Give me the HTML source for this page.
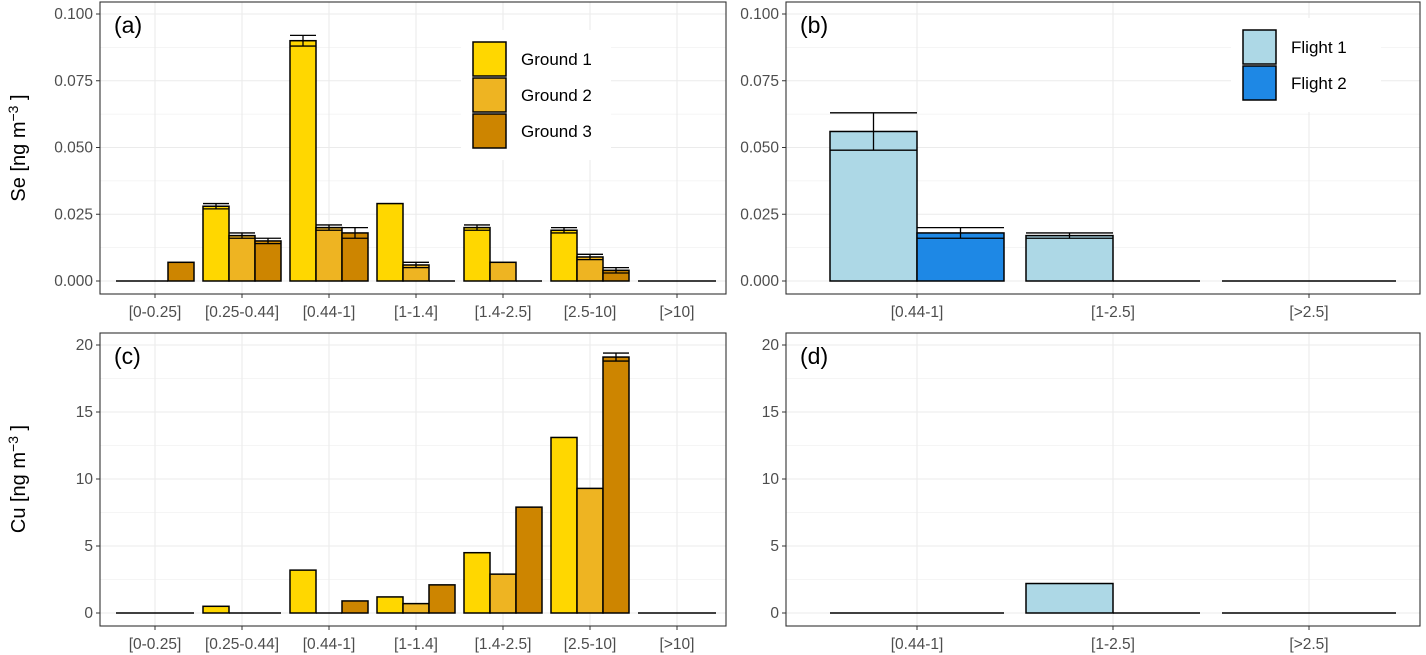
<!DOCTYPE html>
<html><head><meta charset="utf-8">
<style>
body{margin:0;background:#fff;}
svg{display:block;font-family:"Liberation Sans","DejaVu Sans",sans-serif;}
</style></head>
<body>
<svg id="c" width="1426" height="655"></svg>
<script>
const groundCats=["[0-0.25]","[0.25-0.44]","[0.44-1]","[1-1.4]","[1.4-2.5]","[2.5-10]","[>10]"];
const flightCats=["[0.44-1]","[1-2.5]","[>2.5]"];
const seG1=[0,0.028,0.090,0.029,0.020,0.019,0];
const seG2=[0,0.017,0.020,0.006,0.007,0.009,0];
const seG3=[0.007,0.015,0.018,0,0,0.004,0];
const seG1Err=[0,0.001,0.002,0,0.001,0.001,0];
const seG2Err=[0,0.001,0.001,0.001,0,0.001,0];
const seG3Err=[0,0.001,0.002,0,0,0.001,0];
const seF1=[0.056,0.017,0];
const seF2=[0.018,0,0];
const seF1Err=[0.007,0.001,0];
const seF2Err=[0.002,0,0];
const cuG1=[0,0.5,3.2,1.2,4.5,13.1,0];
const cuG2=[0,0,0,0.7,2.9,9.3,0];
const cuG3=[0,0,0.9,2.1,7.9,19.1,0];
const cuG3Err=[0,0,0,0,0,0.3,0];
const cuF1=[0,2.2,0];
const cuF2=[0,0,0];
const seTicks=["0.000","0.025","0.050","0.075","0.100"];
const cuTicks=["0","5","10","15","20"];
const gCols=["#FFD700","#EEB422","#CD8500"];
const fCols=["#ADD8E6","#1E88E5"];

const svg=document.getElementById('c');
const NS="http://www.w3.org/2000/svg";
function mk(tag,attrs,parent){const e=document.createElementNS(NS,tag);for(const k in attrs)e.setAttribute(k,attrs[k]);(parent||svg).appendChild(e);return e;}

function panel(o){
  const g=mk('g',{});
  
  
  const yv=v=>o.y0-(v/o.ymax)*(o.y0-o.ytop);
  const n=o.cats.length;
  const xc=i=>o.cx0+i*o.step;
  mk('rect',{x:o.x1,y:o.yt,width:o.x2-o.x1,height:o.yb-o.yt,fill:'#fff'},g);
  for(let i=0;i<o.ticks.length*2-1;i++){
    const v=o.ymax*i/((o.ticks.length-1)*2);
    mk('line',{x1:o.x1,x2:o.x2,y1:yv(v),y2:yv(v),stroke:'#ebebeb','stroke-width':i%2?0.6:1.1},g);
  }
  for(let i=0;i<n;i++)mk('line',{x1:xc(i),x2:xc(i),y1:o.yt,y2:o.yb,stroke:'#ebebeb','stroke-width':1.1},g);
  const ns=o.series.length, bw=o.gw/ns;
  o.series.forEach((s,si)=>{
    s.forEach((v,i)=>{
      const x=xc(i)-o.gw/2+si*bw;
      let r;
      if(v<=0){
        r=mk('line',{x1:x,x2:x+bw,y1:yv(0),y2:yv(0),stroke:'#000','stroke-width':1.5},g);
      } else {
        r=mk('rect',{x:x,y:yv(v),width:bw,height:yv(0)-yv(v),fill:o.cols[si],stroke:'#000','stroke-width':1.5},g);
      }
      
      
      const e=o.errs[si]?o.errs[si][i]:0;
      if(e>0){
        const cx=x+bw/2;
        mk('line',{x1:cx,x2:cx,y1:yv(v+e),y2:yv(v-e),stroke:'#000','stroke-width':1.3},g);
        mk('line',{x1:x,x2:x+bw,y1:yv(v+e),y2:yv(v+e),stroke:'#000','stroke-width':1.3},g);
        mk('line',{x1:x,x2:x+bw,y1:yv(v-e),y2:yv(v-e),stroke:'#000','stroke-width':1.3},g);
      }
    });
  });
  mk('rect',{x:o.x1,y:o.yt,width:o.x2-o.x1,height:o.yb-o.yt,fill:'none',stroke:'#333','stroke-width':1.1},g);
  o.ticks.forEach((t,i)=>{
    const v=o.ymax*i/(o.ticks.length-1);
    mk('line',{x1:o.x1-4,x2:o.x1,y1:yv(v),y2:yv(v),stroke:'#333'},g);
    const tx=mk('text',{x:o.x1-7,y:yv(v)+5,'text-anchor':'end','font-size':15.5,fill:'#4d4d4d'},g);
    tx.textContent=t;
  });
  o.cats.forEach((c,i)=>{
    mk('line',{x1:xc(i),x2:xc(i),y1:o.yb,y2:o.yb+4,stroke:'#333'},g);
    const tx=mk('text',{x:xc(i),y:o.yb+23,'text-anchor':'middle','font-size':15.5,fill:'#4d4d4d'},g);
    tx.textContent=c;
  });
  const lab=mk('text',{x:o.x1+14,y:o.yt+31,'font-size':23,fill:'#000'},g);
  lab.textContent=o.label;
  
  
  if(o.legend){
    const lg=mk('g',{},g);
    
    
    mk('rect',{x:o.legend.x-12,y:o.legend.y-12,width:150,height:o.legend.names.length*36+22,fill:'#fff'},lg);
    o.legend.names.forEach((nm,i)=>{
      mk('rect',{x:o.legend.x,y:o.legend.y+i*36,width:33,height:34,fill:o.cols[i],stroke:'#000','stroke-width':1.5},lg);
      const t=mk('text',{x:o.legend.x+48,y:o.legend.y+i*36+23,'font-size':17,fill:'#000'},lg);
      t.textContent=nm;
    });
  }
}
panel({name:'panel-a',label:'(a)',x1:100,x2:726,yt:2,yb:294,y0:281,ytop:14,ymax:0.1,ticks:seTicks,cats:groundCats,cx0:155,step:87,gw:78,series:[seG1,seG2,seG3],errs:[seG1Err,seG2Err,seG3Err],cols:gCols,legend:{x:473,y:42,names:["Ground 1","Ground 2","Ground 3"]}});
panel({name:'panel-b',label:'(b)',x1:786,x2:1420,yt:2,yb:294,y0:281,ytop:14,ymax:0.1,ticks:seTicks,cats:flightCats,cx0:917,step:196,gw:174,series:[seF1,seF2],errs:[seF1Err,seF2Err],cols:fCols,legend:{x:1243,y:30,names:["Flight 1","Flight 2"]}});
panel({name:'panel-c',label:'(c)',x1:100,x2:726,yt:333,yb:626,y0:613,ytop:345,ymax:20,ticks:cuTicks,cats:groundCats,cx0:155,step:87,gw:78,series:[cuG1,cuG2,cuG3],errs:[null,null,cuG3Err],cols:gCols});
panel({name:'panel-d',label:'(d)',x1:786,x2:1420,yt:333,yb:626,y0:613,ytop:345,ymax:20,ticks:cuTicks,cats:flightCats,cx0:917,step:196,gw:174,series:[cuF1,cuF2],errs:[],cols:fCols});
function ytitle(txt,cy,nm){
  const t=mk('text',{transform:`translate(25,${cy}) rotate(-90)`,'text-anchor':'middle','font-size':20,fill:'#000'});
  t.innerHTML=txt+' [ng m<tspan dy="-7" font-size="14">−3</tspan><tspan dy="7"> ]</tspan>';
  
  
}
ytitle('Se',148,'y-axis-title-se');
ytitle('Cu',479,'y-axis-title-cu');
</script>
</body></html>
